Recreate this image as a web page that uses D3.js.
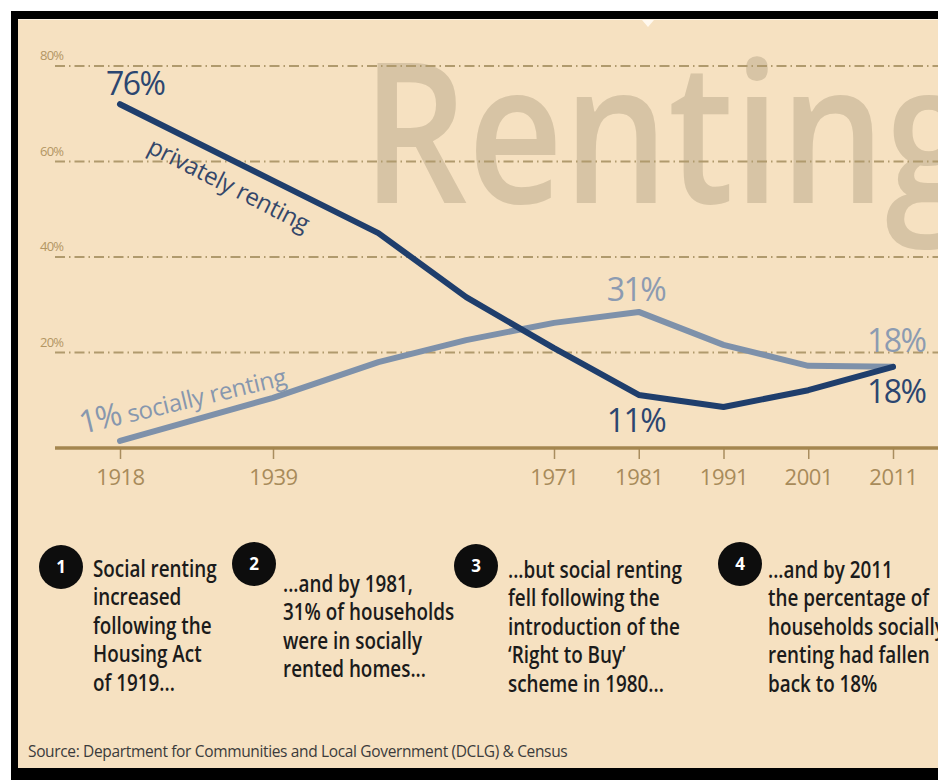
<!DOCTYPE html>
<html>
<head>
<meta charset="utf-8">
<script src="https://cdn.jsdelivr.net/npm/d3@7"></script>
<style>
  html, body { margin: 0; padding: 0; background: #fff; overflow: hidden; }
  svg { display: block; }
</style>
</head>
<body>
<div id="chart"></div>
<script>
// census years and share of households (%)
const years = [1918, 1939, 1951, 1961, 1971, 1981, 1991, 2001, 2011];
const privateShare = [72, 56, 45, 31.6, 20.9, 11.1, 8.6, 12.1, 17];
const socialShare = [1.5, 10.5, 18, 22.6, 26.2, 28.5, 21.6, 17.2, 17];
const tickYears = [1918, 1939, 1971, 1981, 1991, 2001, 2011];
const gridTicks = [20, 40, 60, 80];
// printed callouts on the infographic
const privateCallouts = ['76%', '11%', '18%'];
const socialCallouts = ['31%', '18%'];
const notes = [
  ['Social renting', 'increased', 'following the', 'Housing Act', 'of 1919...'],
  ['...and by 1981,', '31% of households', 'were in socially', 'rented homes...'],
  ['...but  social renting', 'fell following the', 'introduction of the', '\u2018Right to Buy\u2019', 'scheme in 1980...'],
  ['...and by 2011', 'the percentage of', 'households socially', 'renting had fallen', 'back to 18%']
];
const source = 'Source: Department for Communities and Local Government (DCLG) & Census';

const W = 938, H = 780;
const BG = '#f6e1c1', NAVY = '#1f3e6c', GREY = '#7e91aa', GOLD = '#a4864f';
const FONT = '"Open Sans", "Noto Sans", sans-serif';

const svg = d3.select('#chart').append('svg').attr('width', W).attr('height', H);

// frame: black bars top/left/bottom, beige panel
svg.append('rect').attr('x', 0).attr('y', 0).attr('width', W).attr('height', H).attr('fill', '#fff');
svg.append('rect').attr('x', 11).attr('y', 11).attr('width', W - 11).attr('height', H - 11).attr('fill', '#000');
svg.append('rect').attr('x', 18).attr('y', 19).attr('width', W - 18).attr('height', 749).attr('fill', '#fdf3e4');
svg.append('rect').attr('x', 18).attr('y', 20).attr('width', W - 18).attr('height', 748).attr('fill', BG);
svg.append('path').attr('d', 'M642,20 L654,20 L648,27 Z').attr('fill', '#fff8ee');

const x = d3.scaleLinear().domain([1918, 1939, 1971, 2011]).range([120, 273, 554, 893]);
const y = d3.scaleLinear().domain([0, 80]).range([448, 66]);

// watermark
svg.append('text')
  .attr('x', 362).attr('y', 203)
  .attr('font-family', FONT).attr('font-weight', 600).attr('font-size', 196)
  .attr('textLength', 615).attr('lengthAdjust', 'spacingAndGlyphs')
  .attr('fill', '#d7c4a5').text('Renting');

// grid
const grid = svg.append('g');
grid.selectAll('line').data(gridTicks).join('line')
  .attr('x1', 55).attr('x2', W).attr('y1', d => y(d)).attr('y2', d => y(d))
  .attr('stroke', '#b09a6d').attr('stroke-width', 1.8)
  .attr('stroke-dasharray', '10,4,1.5,4');
grid.selectAll('text').data(gridTicks).join('text')
  .attr('x', 40).attr('y', d => y(d) - 6)
  .attr('font-family', FONT).attr('font-size', 13).attr('letter-spacing', -0.8)
  .attr('fill', '#b39664').text(d => d + '%');

// x axis
const xAxis = svg.append('g').attr('transform', `translate(0,${y(0)})`)
  .call(d3.axisBottom(x).tickValues(tickYears).tickFormat(d3.format('d')).tickSize(11).tickPadding(10));
xAxis.select('.domain').remove();
xAxis.append('line').attr('x1', 55).attr('x2', W).attr('stroke', GOLD).attr('stroke-width', 3.5);
xAxis.selectAll('.tick line').attr('stroke', '#a98d5e').attr('stroke-width', 1.5);
xAxis.selectAll('.tick text')
  .attr('font-family', FONT).attr('font-size', 22).attr('fill', '#a88b5a')
  .attr('letter-spacing', -0.5);

// lines
const line = d3.line().x(d => x(d[0])).y(d => y(d[1]));
svg.append('path').datum(d3.zip(years, socialShare))
  .attr('d', line).attr('fill', 'none').attr('stroke', GREY)
  .attr('stroke-width', 6).attr('stroke-linejoin', 'round').attr('stroke-linecap', 'round');
svg.append('path').datum(d3.zip(years, privateShare))
  .attr('d', line).attr('fill', 'none').attr('stroke', NAVY)
  .attr('stroke-width', 6).attr('stroke-linejoin', 'round').attr('stroke-linecap', 'round');

// series names along the lines
svg.append('text')
  .attr('transform', `translate(146,152) rotate(27)`)
  .attr('font-family', FONT).attr('font-size', 24).attr('fill', '#34476a')
  .attr('letter-spacing', -0.3)
  .text('privately renting');
const soc = svg.append('text')
  .attr('transform', `translate(82,434) rotate(-13.5)`)
  .attr('font-family', FONT).attr('fill', '#8797ae');
soc.append('tspan').attr('font-size', 32).attr('letter-spacing', -1.5).text('1%');
soc.append('tspan').attr('font-size', 24).attr('dx', 7).attr('letter-spacing', -0.3).text('socially renting');

// callouts
const callFont = g => g.attr('font-family', FONT).attr('font-size', 32).attr('letter-spacing', -1.5);
const pIdx = [0, years.indexOf(1981), years.indexOf(2011)];
const pOff = [[-14, -9], [-32, 37], [-26, 36]];
svg.selectAll('.pc').data(privateCallouts).join('text').attr('class', 'pc')
  .call(callFont).attr('fill', '#2c4670')
  .attr('x', (d, i) => x(years[pIdx[i]]) + pOff[i][0])
  .attr('y', (d, i) => y(privateShare[pIdx[i]]) + pOff[i][1])
  .text(d => d);
const sIdx = [years.indexOf(1981), years.indexOf(2011)];
const sOff = [[-32, -11], [-26, -15]];
svg.selectAll('.sc').data(socialCallouts).join('text').attr('class', 'sc')
  .call(callFont).attr('fill', '#8c9bb1')
  .attr('x', (d, i) => x(years[sIdx[i]]) + sOff[i][0])
  .attr('y', (d, i) => y(socialShare[sIdx[i]]) + sOff[i][1])
  .text(d => d);

// numbered notes
const noteX = [93, 283, 508, 768];
const noteY = [577, 592, 578, 578];
const dotC = [[61, 567], [254, 564], [476, 566], [740, 564]];
notes.forEach((lines, i) => {
  svg.append('circle').attr('cx', dotC[i][0]).attr('cy', dotC[i][1]).attr('r', 22).attr('fill', '#0d0d0d');
  svg.append('text').attr('x', dotC[i][0]).attr('y', dotC[i][1] + 6)
    .attr('text-anchor', 'middle').attr('font-family', FONT).attr('font-weight', 700)
    .attr('font-size', 17).attr('fill', '#fff').text(i + 1);
  const g = svg.append('g').attr('transform', `translate(${noteX[i]},${noteY[i]}) scale(0.82,1)`);
  g.selectAll('text').data(lines).join('text')
    .attr('x', 0).attr('y', (d, j) => j * 28.5)
    .attr('font-family', FONT).attr('font-weight', 600).attr('font-size', 23)
    .attr('fill', '#1b1b1b').text(d => d);
});

svg.append('text').attr('x', 28).attr('y', 757)
  .attr('font-family', FONT).attr('font-size', 15.5).attr('fill', '#3b3b3b')
  .attr('letter-spacing', -0.35).text(source);
</script>
</body>
</html>
